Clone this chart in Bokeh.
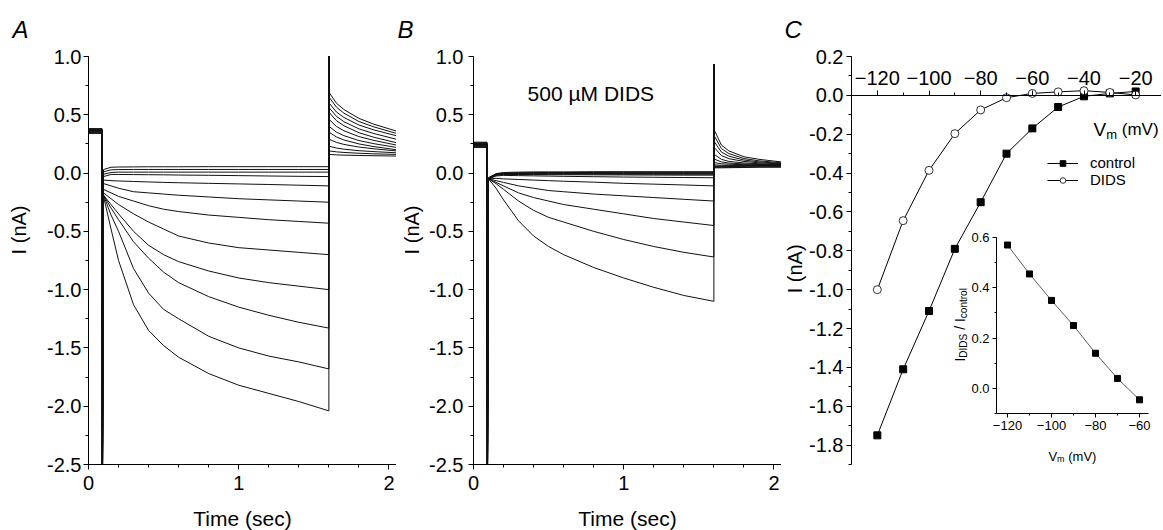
import math
from bokeh.plotting import figure
from bokeh.layouts import row
from bokeh.models import (Range1d, LinearAxis, FixedTicker, PrintfTickFormatter,
                          Legend, LegendItem)
from bokeh.core.properties import value
from bokeh.embed import file_html
from bokeh.resources import INLINE

# ---------------- data ----------------
HOLD_T = [0.0, 0.09]
CAP_ON_T = [0.092]
STEP_T = [0.10, 0.15, 0.20, 0.30, 0.40, 0.50, 0.60, 0.80, 1.00, 1.20, 1.40, 1.60]
CAP_OFF_T = [1.60]
TAIL_T = [1.602, 1.65, 1.70, 1.80, 1.90, 2.05]

# Panel A (control)
A_hold = [0.34, 0.345, 0.35, 0.355, 0.36, 0.36, 0.365, 0.37, 0.37, 0.375, 0.38, 0.38]
A_cap_on = -3.0
A_cap_off = 1.3
A_step = [
    [0.03, 0.05, 0.052, 0.053, 0.054, 0.054, 0.054, 0.055, 0.055, 0.055, 0.055, 0.055],
    [0.01, 0.028, 0.03, 0.031, 0.031, 0.031, 0.031, 0.031, 0.031, 0.031, 0.031, 0.031],
    [-0.01, 0.005, 0.008, 0.008, 0.008, 0.008, 0.008, 0.008, 0.008, 0.008, 0.008, 0.008],
    [-0.03, -0.012, -0.012, -0.013, -0.014, -0.015, -0.017, -0.019, -0.022, -0.025, -0.028, -0.03],
    [-0.06, -0.065, -0.068, -0.072, -0.076, -0.08, -0.083, -0.088, -0.093, -0.098, -0.104, -0.11],
    [-0.09, -0.11, -0.13, -0.16, -0.17, -0.18, -0.19, -0.205, -0.22, -0.23, -0.24, -0.25],
    [-0.14, -0.17, -0.20, -0.24, -0.28, -0.31, -0.33, -0.36, -0.38, -0.40, -0.415, -0.43],
    [-0.17, -0.22, -0.27, -0.35, -0.42, -0.48, -0.54, -0.60, -0.64, -0.66, -0.68, -0.70],
    [-0.19, -0.27, -0.35, -0.50, -0.62, -0.70, -0.76, -0.84, -0.90, -0.94, -0.97, -1.00],
    [-0.19, -0.30, -0.40, -0.59, -0.73, -0.85, -0.94, -1.06, -1.15, -1.22, -1.28, -1.33],
    [-0.19, -0.36, -0.50, -0.82, -1.03, -1.17, -1.25, -1.40, -1.50, -1.57, -1.62, -1.68],
    [-0.20, -0.48, -0.75, -1.13, -1.35, -1.48, -1.58, -1.72, -1.82, -1.89, -1.96, -2.04],
]
A_tail = [
    [0.16, 0.156, 0.154, 0.151, 0.149, 0.146],
    [0.19, 0.182, 0.177, 0.17, 0.165, 0.16],
    [0.23, 0.215, 0.205, 0.192, 0.184, 0.174],
    [0.29, 0.263, 0.246, 0.223, 0.208, 0.19],
    [0.35, 0.31, 0.284, 0.25, 0.227, 0.20],
    [0.40, 0.351, 0.321, 0.279, 0.252, 0.22],
    [0.46, 0.40, 0.363, 0.313, 0.28, 0.24],
    [0.52, 0.45, 0.406, 0.346, 0.307, 0.26],
    [0.56, 0.487, 0.441, 0.379, 0.339, 0.29],
    [0.60, 0.524, 0.477, 0.412, 0.37, 0.32],
    [0.65, 0.566, 0.514, 0.442, 0.396, 0.34],
    [0.69, 0.60, 0.545, 0.469, 0.419, 0.36],
]

# Panel B (500 uM DIDS)
B_hold = [0.22, 0.225, 0.23, 0.235, 0.24, 0.24, 0.245, 0.25, 0.25, 0.255, 0.26, 0.265]
B_cap_on = -3.0
B_cap_off = 0.93
B_step = [
    [-0.04, -0.005, 0.005, 0.008, 0.01, 0.01, 0.01, 0.012, 0.012, 0.012, 0.012, 0.012],
    [-0.04, -0.008, 0.0, 0.003, 0.004, 0.005, 0.005, 0.005, 0.006, 0.006, 0.006, 0.006],
    [-0.045, -0.01, -0.004, -0.002, -0.001, 0.0, 0.0, 0.0, 0.0, 0.0, 0.0, 0.0],
    [-0.045, -0.012, -0.006, -0.005, -0.005, -0.005, -0.005, -0.005, -0.005, -0.005, -0.005, -0.005],
    [-0.045, -0.015, -0.008, -0.008, -0.008, -0.009, -0.009, -0.009, -0.01, -0.01, -0.01, -0.01],
    [-0.05, -0.02, -0.012, -0.012, -0.013, -0.014, -0.014, -0.015, -0.016, -0.017, -0.018, -0.018],
    [-0.05, -0.025, -0.02, -0.022, -0.024, -0.026, -0.028, -0.031, -0.034, -0.036, -0.038, -0.04],
    [-0.05, -0.045, -0.05, -0.055, -0.06, -0.065, -0.07, -0.078, -0.088, -0.095, -0.102, -0.11],
    [-0.05, -0.065, -0.08, -0.11, -0.13, -0.15, -0.16, -0.18, -0.195, -0.21, -0.225, -0.24],
    [-0.05, -0.08, -0.11, -0.17, -0.21, -0.24, -0.27, -0.31, -0.35, -0.39, -0.42, -0.45],
    [-0.05, -0.09, -0.14, -0.24, -0.32, -0.38, -0.42, -0.50, -0.57, -0.63, -0.68, -0.72],
    [-0.05, -0.13, -0.23, -0.41, -0.54, -0.63, -0.70, -0.81, -0.90, -0.98, -1.05, -1.10],
]
B_tail = [
    [0.045, 0.045, 0.046, 0.048, 0.05, 0.05],
    [0.05, 0.05, 0.05, 0.052, 0.054, 0.055],
    [0.055, 0.055, 0.056, 0.058, 0.06, 0.06],
    [0.06, 0.06, 0.061, 0.063, 0.064, 0.065],
    [0.07, 0.067, 0.066, 0.066, 0.066, 0.066],
    [0.09, 0.08, 0.076, 0.072, 0.07, 0.068],
    [0.12, 0.096, 0.086, 0.078, 0.074, 0.07],
    [0.16, 0.118, 0.10, 0.087, 0.08, 0.074],
    [0.22, 0.15, 0.123, 0.10, 0.088, 0.078],
    [0.27, 0.18, 0.145, 0.112, 0.096, 0.082],
    [0.32, 0.21, 0.167, 0.125, 0.105, 0.088],
    [0.37, 0.24, 0.19, 0.14, 0.118, 0.095],
]

# Panel C: I-V relation
C_vm = [-120, -110, -100, -90, -80, -70, -60, -50, -40, -30, -20]
C_control = [-1.75, -1.41, -1.11, -0.79, -0.55, -0.30, -0.17, -0.06, -0.005, 0.01, 0.02]
C_dids = [-1.00, -0.645, -0.386, -0.197, -0.075, -0.012, 0.01, 0.018, 0.024, 0.015, 0.002]

# Inset: I_DIDS / I_control
INSET_vm = [-120, -110, -100, -90, -80, -70, -60]
INSET_ratio = [0.57, 0.455, 0.35, 0.25, 0.14, 0.04, -0.045]

TRACE_TICKS_X = [0, 1, 2]
TRACE_MINOR_X = [0.0, 0.2, 0.4, 0.6, 0.8, 1.0, 1.2, 1.4, 1.6, 1.8, 2.0]
TRACE_TICKS_Y = [-2.5, -2.0, -1.5, -1.0, -0.5, 0.0, 0.5, 1.0]
TRACE_MINOR_Y = [-2.5, -2.25, -2.0, -1.75, -1.5, -1.25, -1.0, -0.75, -0.5, -0.25, 0.0, 0.25, 0.5, 0.75, 1.0]
C_TICKS_X = [-120, -100, -80, -60, -40, -20]
C_MINOR_X = [-130, -120, -110, -100, -90, -80, -70, -60, -50, -40, -30, -20, -10]
C_TICKS_Y = [-1.8, -1.6, -1.4, -1.2, -1.0, -0.8, -0.6, -0.4, -0.2, 0.0, 0.2]
C_MINOR_Y = [-1.9, -1.8, -1.7, -1.6, -1.5, -1.4, -1.3, -1.2, -1.1, -1.0, -0.9, -0.8,
             -0.7, -0.6, -0.5, -0.4, -0.3, -0.2, -0.1, 0.0, 0.1, 0.2]
INSET_TICKS_X = [-120, -100, -80, -60]
INSET_MINOR_X = [-120, -110, -100, -90, -80, -70, -60]
INSET_TICKS_Y = [0.0, 0.2, 0.4, 0.6]
INSET_MINOR_Y = [-0.1, 0.0, 0.1, 0.2, 0.3, 0.4, 0.5, 0.6]

FONT = "Liberation Sans"
NB = "\u00a0"


def style_axis(ax, tick_size="20px", label_size="20px", label_standoff=4, tick_standoff=4):
    ax.axis_line_color = "black"
    ax.axis_line_width = 1
    ax.major_tick_line_color = "black"
    ax.minor_tick_line_color = "black"
    ax.major_tick_in = 0
    ax.major_tick_out = 5
    ax.minor_tick_in = 0
    ax.minor_tick_out = 3
    ax.major_label_text_font = FONT
    ax.major_label_text_font_size = tick_size
    ax.major_label_text_color = "black"
    ax.major_label_standoff = tick_standoff
    ax.axis_label_text_font = FONT
    ax.axis_label_text_font_style = "normal"
    ax.axis_label_text_font_size = label_size
    ax.axis_label_text_color = "black"
    ax.axis_label_standoff = label_standoff


def style_title(p, letter_offset):
    p.title.text_font = FONT
    p.title.text_font_size = "24px"
    p.title.text_font_style = "italic"
    p.title.text_color = "black"
    p.title.align = "left"
    p.title.offset = letter_offset
    p.title.standoff = 27


def trace_figure(letter, hold, cap_on, step, cap_off, tail, left_border, title_offset,
                 ytick_standoff, ylabel_standoff):
    p = figure(frame_width=308, frame_height=408,
               min_border_left=left_border, min_border_right=0,
               min_border_top=55, min_border_bottom=67,
               x_range=Range1d(0, 2.05), y_range=Range1d(-2.5, 1.0),
               output_backend="svg", toolbar_location=None,
               title=letter)
    p.outline_line_color = None
    p.xgrid.visible = False
    p.ygrid.visible = False
    style_title(p, title_offset)
    xs, ys = [], []
    for h, s, t in zip(hold, step, tail):
        xs.append(HOLD_T + CAP_ON_T + STEP_T + CAP_OFF_T + TAIL_T)
        ys.append([h, h, cap_on] + s + [cap_off] + t)
    p.multi_line(xs, ys, line_color="#111111", line_width=1)
    p.xaxis.ticker = FixedTicker(ticks=TRACE_TICKS_X, minor_ticks=TRACE_MINOR_X)
    p.yaxis.ticker = FixedTicker(ticks=TRACE_TICKS_Y, minor_ticks=TRACE_MINOR_Y)
    p.yaxis.formatter = PrintfTickFormatter(format="%.1f")
    p.xaxis.axis_label = "Time (sec)"
    # leading no-break spaces lift the rotated label above the frame centre
    p.yaxis.axis_label = NB * 11 + "I (nA)"
    style_axis(p.xaxis[0], label_size="21px", label_standoff=14, tick_standoff=6)
    style_axis(p.yaxis[0], tick_standoff=ytick_standoff, label_standoff=ylabel_standoff)
    return p


pA = trace_figure("A", A_hold, A_cap_on, A_step, A_cap_off, A_tail, 88, -76, 2, 14)
pB = trace_figure("B", B_hold, B_cap_on, B_step, B_cap_off, B_tail, 77, -76, 5, 3)
pB.text(x=[0.36], y=[0.686], text=["500" + NB + "\u00b5M" + NB + "DIDS"], text_font=value(FONT),
        text_font_size="21px", text_align="left", text_baseline="middle", text_color="black")

# ---------------- panel C ----------------
pC = figure(frame_width=310, frame_height=408,
            min_border_left=69, min_border_right=0,
            min_border_top=55, min_border_bottom=67,
            x_range=Range1d(-130, -10), y_range=Range1d(-1.9, 0.2),
            x_axis_location="above",
            output_backend="svg", toolbar_location=None, title="C")
pC.outline_line_color = None
pC.xgrid.visible = False
pC.ygrid.visible = False
style_title(pC, -67)
pC.xaxis.fixed_location = 0
pC.xaxis.ticker = FixedTicker(ticks=C_TICKS_X, minor_ticks=C_MINOR_X)
pC.yaxis.ticker = FixedTicker(ticks=C_TICKS_Y, minor_ticks=C_MINOR_Y)
pC.yaxis.formatter = PrintfTickFormatter(format="%.1f")
pC.yaxis.axis_label = "I (nA)" + NB * 3
style_axis(pC.xaxis[0], tick_standoff=5)
style_axis(pC.yaxis[0], tick_standoff=3, label_standoff=0)

lc = pC.line(C_vm, C_control, line_color="black", line_width=1)
sc = pC.scatter(C_vm, C_control, marker="square", size=7, fill_color="black", line_color="black")
ld = pC.line(C_vm, C_dids, line_color="black", line_width=1)
sd = pC.scatter(C_vm, C_dids, marker="circle", size=8, fill_color="white", line_color="black", line_width=0.8)

legend = Legend(items=[LegendItem(label="control", renderers=[lc, sc]),
                       LegendItem(label="DIDS", renderers=[ld, sd])],
                location=(196, 276), orientation="vertical",
                label_text_font=FONT, label_text_font_size="15px", label_text_color="black",
                glyph_width=31, glyph_height=14, label_standoff=12,
                spacing=0, padding=0, margin=0,
                border_line_alpha=0, background_fill_alpha=0)
pC.add_layout(legend)

# V_m (mV) label of the main x axis
VM_X, VM_Y = -36.3, -0.175
pC.text(x=[VM_X], y=[VM_Y], text=["V"], text_font=value(FONT), text_font_size="19px",
        text_align="left", text_baseline="alphabetic")
pC.text(x=[VM_X], y=[VM_Y], text=["m"], text_font=value(FONT), text_font_size="13px",
        text_align="left", text_baseline="alphabetic", x_offset=12.7, y_offset=5)
pC.text(x=[VM_X], y=[VM_Y], text=[NB + "(mV)"], text_font=value(FONT), text_font_size="17px",
        text_align="left", text_baseline="alphabetic", x_offset=23.5)

# ---- inset, drawn on extra ranges of panel C ----
pC.extra_x_ranges = {"ix": Range1d(-190.91, -50.0)}
pC.extra_y_ranges = {"iy": Range1d(-0.302, 1.319)}
pC.line(INSET_vm, INSET_ratio, x_range_name="ix", y_range_name="iy",
        line_color="#333333", line_width=0.8)
pC.scatter(INSET_vm, INSET_ratio, x_range_name="ix", y_range_name="iy",
           marker="square", size=6, fill_color="black", line_color="black")

ix_axis = LinearAxis(x_range_name="ix", y_range_name="iy", fixed_location=-0.1,
                     bounds=(-125, -56),
                     ticker=FixedTicker(ticks=INSET_TICKS_X, minor_ticks=INSET_MINOR_X))
style_axis(ix_axis, tick_size="13px", tick_standoff=3)
ix_axis.major_tick_out = 4
ix_axis.minor_tick_out = 2
pC.add_layout(ix_axis, "below")

iy_axis = LinearAxis(x_range_name="ix", y_range_name="iy", fixed_location=-125,
                     bounds=(-0.1, 0.6),
                     ticker=FixedTicker(ticks=INSET_TICKS_Y, minor_ticks=INSET_MINOR_Y),
                     formatter=PrintfTickFormatter(format="%.1f"))
style_axis(iy_axis, tick_size="13px", tick_standoff=3)
iy_axis.major_tick_out = 4
iy_axis.minor_tick_out = 2
pC.add_layout(iy_axis, "left")

# inset x label: V_m (mV)
IVM_X, IVM_Y = -101.4, -0.27
pC.text(x=[IVM_X], y=[IVM_Y], text=["V"], x_range_name="ix", y_range_name="iy",
        text_font=value(FONT), text_font_size="13px", text_align="left", text_baseline="alphabetic")
pC.text(x=[IVM_X], y=[IVM_Y], text=["m"], x_range_name="ix", y_range_name="iy",
        text_font=value(FONT), text_font_size="9px", text_align="left", text_baseline="alphabetic",
        x_offset=8.7, y_offset=3)
pC.text(x=[IVM_X], y=[IVM_Y], text=[NB + "(mV)"], x_range_name="ix", y_range_name="iy",
        text_font=value(FONT), text_font_size="13px", text_align="left", text_baseline="alphabetic",
        x_offset=16.2)

# inset y label: I_DIDS / I_control (rotated)
rot = math.pi / 2
pieces = [("I", "14px", 0, 0), ("DIDS", "10px", 4, -3.9), (NB + "/" + NB, "14px", 0, -27.8),
          ("I", "14px", 0, -39.5), ("control", "10px", 4, -43.4)]
for txt, fs, xo, yo in pieces:
    pC.text(x=[-141.8], y=[0.107], text=[txt], x_range_name="ix", y_range_name="iy",
            text_font=value(FONT), text_font_size=fs, text_align="left",
            text_baseline="alphabetic", angle=rot, x_offset=xo, y_offset=yo)

layout = row(pA, pB, pC, spacing=0)
open("out.html", "w").write(file_html(layout, INLINE))
